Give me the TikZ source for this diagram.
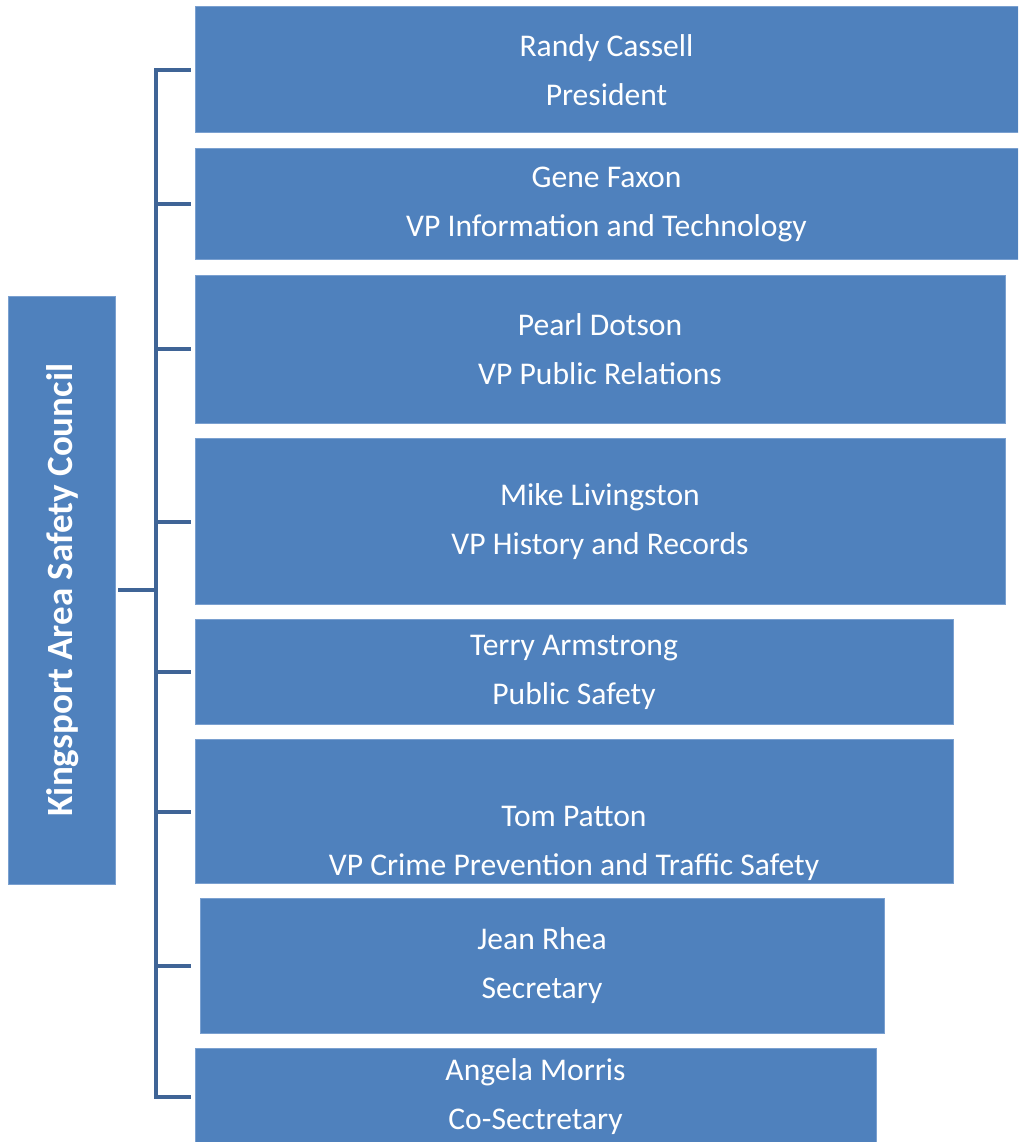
\documentclass[tikz,border=0pt]{standalone}
\usepackage{fontspec}
\setmainfont{Carlito}
\usetikzlibrary{positioning}
\definecolor{boxfill}{RGB}{79,129,189}
\definecolor{boxedge}{RGB}{122,160,208}
\definecolor{linkcol}{RGB}{63,100,150}
\tikzset{
  member/.style ={draw=boxedge, fill=boxfill, line width=1pt, text=white,
                  align=center, anchor=north west, inner sep=0pt, outer sep=0pt,
                  font=\fontsize{31.6}{49}\selectfont},
  council/.style={draw=boxedge, fill=boxfill, line width=1pt, text=white,
                  inner sep=0pt, outer sep=0pt, font=\fontsize{37}{40}\selectfont\bfseries},
  link/.style   ={draw=linkcol, line width=4pt, line cap=rect},
}

\begin{document}
\begin{tikzpicture}[x=1pt, y=-1pt]
  \useasboundingbox (0,0) rectangle (1018,1142);
  \clip (0,0) rectangle (1018,1142);

  % ---------------- root ----------------
  \node[council, minimum width=107pt, minimum height=588pt] (council) at (61.5,590) {};
  \node[council, rotate=90, draw=none, fill=none] (council-t) at ([xshift=1pt]council.center)
        {Kingsport Area Safety Council};

  % ---------------- members ----------------
  \node[member, minimum width=823pt, minimum height=126pt] (b1) at (195,7)
        {Randy Cassell\\President};
  \node[member, minimum width=823pt, minimum height=111pt, below=15.5pt of b1.south west, anchor=north west] (b2)
        {Gene Faxon\\VP Information and Technology};
  \node[member, minimum width=810pt, minimum height=148pt, below=15.5pt of b2.south west, anchor=north west] (b3)
        {Pearl Dotson\\VP Public Relations};
  \node[member, minimum width=810pt, minimum height=166pt, below=15.5pt of b3.south west, anchor=north west] (b4)
        {Mike Livingston\\VP History and Records};
  \node[member, minimum width=758pt, minimum height=105pt, below=15pt of b4.south west, anchor=north west] (b5)
        {Terry Armstrong\\Public Safety};
  \node[member, minimum width=758pt, minimum height=144pt, below=15pt of b5.south west, anchor=north west] (b6)
        {\strut\\Tom Patton\\VP Crime Prevention and Traffic Safety};
  \node[member, minimum width=684pt, minimum height=135pt, below=15pt of b6.south west, anchor=north west, xshift=5pt] (b7)
        {Jean Rhea\\Secretary};
  \node[member, minimum width=681pt, minimum height=96pt, below=15pt of b7.south west, anchor=north west, xshift=-5pt] (b8)
        {Angela Morris\\Co-Sectretary};

  % ---- bracket ----
  \coordinate (spine) at (156,590);
  \draw[link] ([xshift=5pt]council.east) -- (spine);
  \draw[link] (spine |- b1.west) -- (spine |- b8.west);
  \foreach \b in {b1,b2,b3,b4,b5,b6,b7,b8}
    \draw[link] (spine |- \b.west) -- (189,0 |- \b.west);
\end{tikzpicture}
\end{document}
